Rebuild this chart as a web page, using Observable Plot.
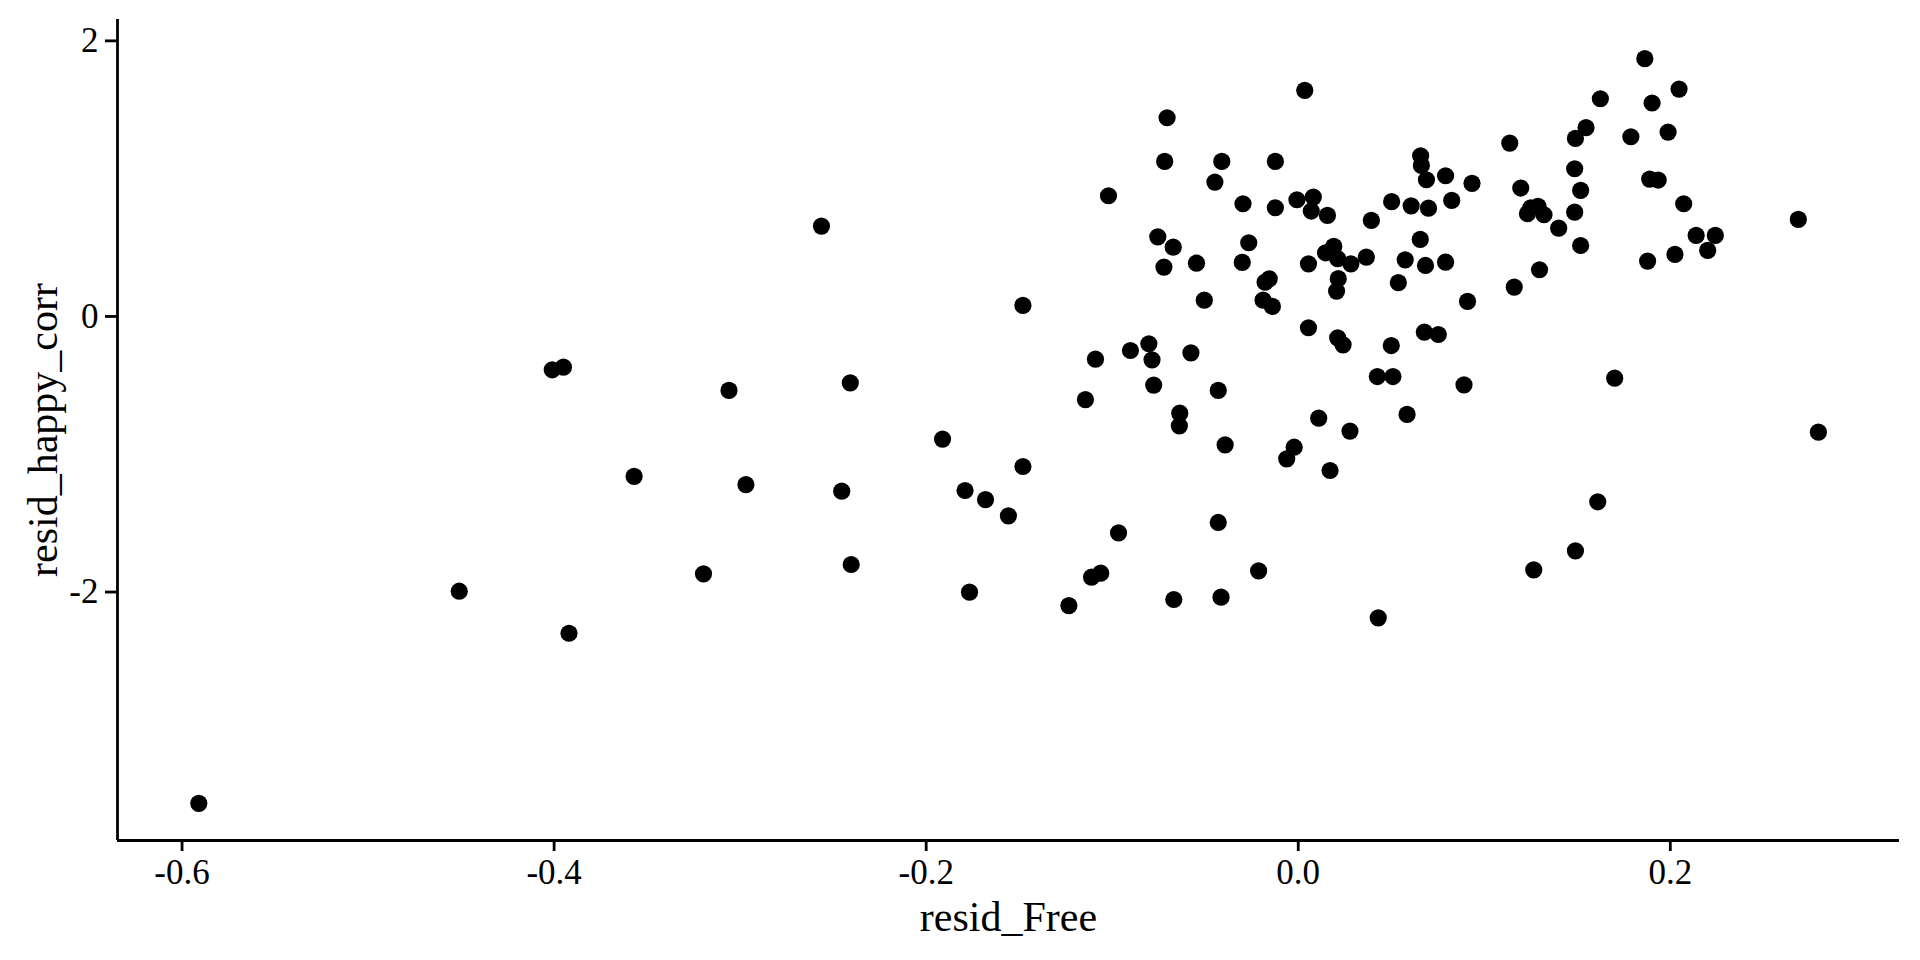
<!DOCTYPE html>
<html>
<head>
<meta charset="utf-8">
<script src="https://cdn.jsdelivr.net/npm/d3@7"></script>
<script src="https://cdn.jsdelivr.net/npm/@observablehq/plot@0.6"></script>
<style>
  html, body { margin: 0; padding: 0; background: #fff; }
  #chart { width: 1920px; height: 960px; }
</style>
</head>
<body>
<div id="chart"></div>
<script>
// resid_Free values (x)
const residFree = [
  -0.401, -0.395, -0.357, -0.451, -0.392, -0.591,
  -0.0705, -0.0718, -0.0411, -0.0123, -0.0448, -0.102, -0.0297, -0.0123, -0.2563, -0.0755,
  -0.0672, -0.0266, -0.0722, -0.0547, -0.0301, -0.0156, -0.0178, -0.148, -0.0505, -0.0189,
  -0.0139, -0.0803, -0.0902, -0.109, -0.0786, -0.0577, -0.306, -0.2408, -0.0777, -0.043,
  -0.1144, -0.0637, -0.0639, -0.1912, -0.0393, -0.148,
  -0.2969, -0.2454, -0.1791, -0.1681, -0.1558, -0.0966, -0.043, -0.3197, -0.2403, -0.1767,
  -0.1233, -0.1111, -0.1062, -0.0669, -0.0415, -0.0213,
  0.161, 0.149, 0.1266, 0.043,
  0.1863, 0.2047, 0.0035, 0.1624, 0.1902, 0.1547, 0.149, 0.1988, 0.1788, 0.1137,
  0.0658, 0.0662, 0.1486, 0.0689, 0.0792, 0.0934, 0.1196, 0.1889, 0.1935, 0.1518,
  -0.0007, 0.0081, 0.007, 0.0157, 0.0502, 0.0607, 0.07, 0.0825, 0.0393, 0.125,
  0.1289, 0.1232, 0.1321, 0.1486, 0.2072, 0.2688, 0.14, 0.0656, 0.0191, 0.0147,
  0.0212, 0.0283, 0.0366, 0.0055, 0.0575, 0.0684, 0.0792, 0.1518, 0.2139, 0.2242,
  0.2201, 0.2025, 0.1878, 0.1297, 0.1161, 0.0215, 0.0206, 0.0538, 0.091, 0.0055,
  0.0212, 0.0241, 0.05, 0.0678, 0.0753, 0.0425, 0.0509, 0.0891, 0.1701, 0.0585,
  0.011, 0.0278, -0.0022, -0.0062, 0.0171, 0.2796
];
// resid_happy_corr values (y)
const residHappyCorr = [
  -0.387, -0.368, -1.16, -1.994, -2.299, -3.533,
  1.442, 1.125, 1.125, 1.125, 0.975, 0.876, 0.818, 0.789, 0.656, 0.578,
  0.503, 0.535, 0.358, 0.387, 0.392, 0.273, 0.249, 0.08, 0.118, 0.118,
  0.073, -0.198, -0.247, -0.31, -0.315, -0.264, -0.537, -0.482, -0.498, -0.537,
  -0.603, -0.702, -0.794, -0.89, -0.932, -1.089,
  -1.22, -1.268, -1.263, -1.329, -1.447, -1.571, -1.495, -1.868, -1.8, -2.001,
  -2.098, -1.892, -1.863, -2.054, -2.037, -1.846,
  -1.345, -1.701, -1.839, -2.187,
  1.871, 1.65, 1.641, 1.58, 1.549, 1.37, 1.292, 1.338, 1.304, 1.258,
  1.166, 1.096, 1.072, 0.992, 1.021, 0.966, 0.932, 0.997, 0.99, 0.915,
  0.847, 0.866, 0.765, 0.733, 0.833, 0.803, 0.786, 0.842, 0.697, 0.789,
  0.799, 0.746, 0.738, 0.757, 0.818, 0.704, 0.641, 0.559, 0.508, 0.462,
  0.419, 0.382, 0.43, 0.382, 0.411, 0.37, 0.394, 0.515, 0.588, 0.588,
  0.479, 0.45, 0.402, 0.339, 0.213, 0.274, 0.184, 0.245, 0.109, -0.082,
  -0.155, -0.206, -0.211, -0.114, -0.131, -0.436, -0.436, -0.496, -0.448, -0.711,
  -0.738, -0.832, -0.949, -1.033, -1.118, -0.84
];
const xTicks = [-0.6, -0.4, -0.2, 0.0, 0.2];
const yTicks = [-2, 0, 2];
const xLabel = "resid_Free";
const yLabel = "resid_happy_corr";

const xDomain = [-0.6347, 0.3232];
const yDomain = [-3.803, 2.155];

const data = residFree.map((x, i) => ({x, y: residHappyCorr[i]}));

const chart = Plot.plot({
  width: 1920,
  height: 960,
  marginLeft: 117,
  marginRight: 21,
  marginTop: 19,
  marginBottom: 120,
  style: {fontFamily: "'Liberation Serif', 'Times New Roman', serif", background: "#fff", color: "#000"},
  x: {domain: xDomain},
  y: {domain: yDomain},
  marks: [
    Plot.dot(data, {x: "x", y: "y", r: 8.6, fill: "#000", stroke: "none"}),
    Plot.axisX({ticks: xTicks, tickFormat: d => d.toFixed(1), tickSize: 11, tickPadding: 8, fontSize: 35, strokeWidth: 2.8, label: null, fill: "#000", fontFamily: "'Liberation Serif', serif"}),
    Plot.axisY({ticks: yTicks, tickFormat: d => String(d), tickSize: 12, tickPadding: 7, fontSize: 35, strokeWidth: 2.8, label: null, fill: "#000", fontFamily: "'Liberation Serif', serif"}),
    Plot.ruleY([yDomain[0]], {stroke: "#000", strokeWidth: 2.8}),
    Plot.ruleX([xDomain[0]], {stroke: "#000", strokeWidth: 2.8}),
    Plot.text([xLabel], {frameAnchor: "bottom", lineAnchor: "middle", textAnchor: "middle", dy: 77, fontSize: 42, fill: "#000", fontFamily: "'Liberation Serif', serif"}),
    Plot.text([yLabel], {frameAnchor: "left", lineAnchor: "middle", textAnchor: "middle", dx: -74, rotate: -90, fontSize: 42, fill: "#000", fontFamily: "'Liberation Serif', serif"})
  ]
});
document.getElementById("chart").appendChild(chart);
</script>
</body>
</html>
